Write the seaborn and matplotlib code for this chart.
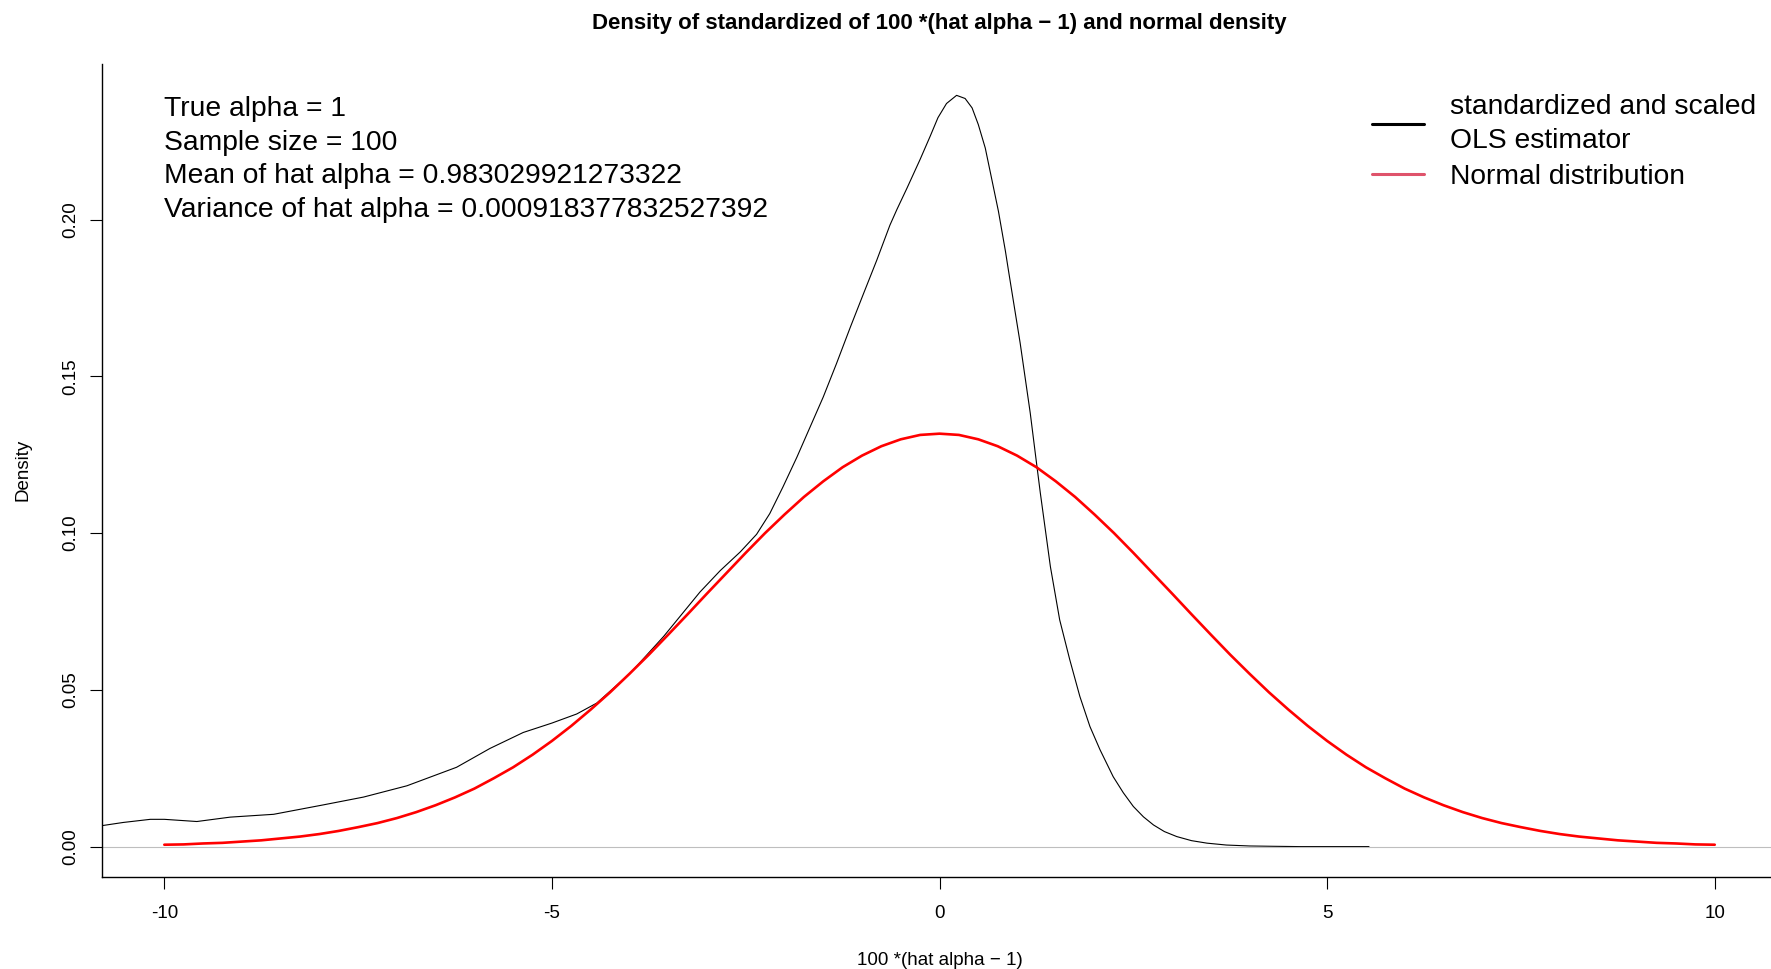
import pandas as pd
import matplotlib
import matplotlib.pyplot as plt
import seaborn as sns
from matplotlib.lines import Line2D

matplotlib.use('Agg')

# Density curve of the standardized, scaled OLS estimator
ols_x = [-10.80, -10.53, -10.18, -10.00, -9.58, -9.15, -8.59, -7.95, -7.43, -6.87,
         -6.23, -5.80, -5.37, -5.00, -4.68, -4.42, -3.99, -3.56, -3.09, -2.83,
         -2.57, -2.36, -2.19, -2.02, -1.84, -1.67, -1.50, -1.33, -1.15, -0.98,
         -0.81, -0.64, -0.55, -0.42, -0.25, -0.12, -0.02, 0.09, 0.22, 0.33,
         0.42, 0.50, 0.59, 0.67, 0.76, 0.85, 0.89, 1.04, 1.17, 1.24,
         1.30, 1.43, 1.55, 1.68, 1.81, 1.94, 2.07, 2.24, 2.37, 2.50,
         2.63, 2.76, 2.90, 3.06, 3.25, 3.45, 3.70, 4.00, 4.30, 4.65, 5.54]
ols_density = [0.0067, 0.0077, 0.0087, 0.0087, 0.0080, 0.0094, 0.0103, 0.0133, 0.0158, 0.0194,
               0.0253, 0.0313, 0.0364, 0.0394, 0.0423, 0.0458, 0.0553, 0.0670, 0.0812, 0.0880,
               0.0940, 0.0996, 0.1062, 0.1147, 0.1242, 0.1338, 0.1434, 0.1540, 0.1657, 0.1764,
               0.1870, 0.1982, 0.2032, 0.2100, 0.2192, 0.2266, 0.2325, 0.2370, 0.2396, 0.2386,
               0.2356, 0.2303, 0.2228, 0.2133, 0.2026, 0.1899, 0.1836, 0.1606, 0.1383, 0.1245,
               0.1128, 0.0893, 0.0723, 0.0596, 0.0479, 0.0383, 0.0309, 0.0223, 0.0172, 0.0128,
               0.0095, 0.0069, 0.0048, 0.0032, 0.0019, 0.0011, 0.0005, 0.0002, 0.0001, 0.0000, 0.0000]

# Normal density curve
norm_x = [-10.0, -9.75, -9.5, -9.25, -9.0, -8.75, -8.5, -8.25, -8.0, -7.75,
          -7.5, -7.25, -7.0, -6.75, -6.5, -6.25, -6.0, -5.75, -5.5, -5.25,
          -5.0, -4.75, -4.5, -4.25, -4.0, -3.75, -3.5, -3.25, -3.0, -2.75,
          -2.5, -2.25, -2.0, -1.75, -1.5, -1.25, -1.0, -0.75, -0.5, -0.25,
          0.0,
          0.25, 0.5, 0.75, 1.0, 1.25, 1.5, 1.75, 2.0, 2.25, 2.5,
          2.75, 3.0, 3.25, 3.5, 3.75, 4.0, 4.25, 4.5, 4.75, 5.0,
          5.25, 5.5, 5.75, 6.0, 6.25, 6.5, 6.75, 7.0, 7.25, 7.5,
          7.75, 8.0, 8.25, 8.5, 8.75, 9.0, 9.25, 9.5, 9.75, 10.0]
norm_density = [0.0006, 0.0007, 0.0010, 0.0012, 0.0016, 0.0020, 0.0026, 0.0032, 0.0040, 0.0050,
                0.0062, 0.0075, 0.0091, 0.0110, 0.0132, 0.0157, 0.0185, 0.0218, 0.0253, 0.0293,
                0.0337, 0.0385, 0.0437, 0.0492, 0.0551, 0.0612, 0.0676, 0.0741, 0.0807, 0.0872,
                0.0937, 0.1000, 0.1059, 0.1115, 0.1165, 0.1210, 0.1247, 0.1277, 0.1299, 0.1313,
                0.1317,
                0.1313, 0.1299, 0.1277, 0.1247, 0.1210, 0.1165, 0.1115, 0.1059, 0.1000, 0.0937,
                0.0872, 0.0807, 0.0741, 0.0676, 0.0612, 0.0551, 0.0492, 0.0437, 0.0385, 0.0337,
                0.0293, 0.0253, 0.0218, 0.0185, 0.0157, 0.0132, 0.0110, 0.0091, 0.0075, 0.0062,
                0.0050, 0.0040, 0.0032, 0.0026, 0.0020, 0.0016, 0.0012, 0.0010, 0.0007, 0.0006]

x_ticks = [-10, -5, 0, 5, 10]
y_ticks = [0.00, 0.05, 0.10, 0.15, 0.20]

info_lines = [
    'True alpha = 1',
    'Sample size = 100',
    'Mean of hat alpha = 0.983029921273322',
    'Variance of hat alpha = 0.000918377832527392',
]
legend_labels = ['standardized and scaled\nOLS estimator', 'Normal distribution']

ols_df = pd.DataFrame({'x': ols_x, 'density': ols_density})
norm_df = pd.DataFrame({'x': norm_x, 'density': norm_density})

sns.set_style('ticks')
plt.rcParams['font.family'] = ['Liberation Sans', 'DejaVu Sans']
plt.rcParams['text.color'] = 'black'
plt.rcParams['axes.labelcolor'] = 'black'
plt.rcParams['xtick.color'] = 'black'
plt.rcParams['ytick.color'] = 'black'

fig = plt.figure(figsize=(17.71, 9.69), dpi=100)
ax = fig.add_axes([0.05776, 0.09525, 0.9455, 0.8387])

sns.lineplot(data=ols_df, x='x', y='density', color='black', linewidth=0.8,
             estimator=None, ax=ax)
ax.axhline(0, color='#BEBEBE', linewidth=0.8)
sns.lineplot(data=norm_df, x='x', y='density', color='red', linewidth=1.9,
             estimator=None, ax=ax)

ax.set_xlim(-10.8, 10.8)
ax.set_ylim(-0.0096, 0.2496)
ax.set_xticks(x_ticks)
ax.set_xticklabels([str(t) for t in x_ticks])
ax.set_yticks(y_ticks)
ax.set_yticklabels([f'{t:.2f}' for t in y_ticks], rotation=90, va='center')
ax.tick_params(axis='both', length=8.6, width=0.8, labelsize=13.5,
               colors='black', direction='out')
ax.tick_params(axis='x', pad=12)
ax.tick_params(axis='y', pad=8)

for side in ['top', 'right']:
    ax.spines[side].set_visible(False)
for side in ['left', 'bottom']:
    ax.spines[side].set_color('black')
    ax.spines[side].set_linewidth(1.0)

ax.set_xlabel('100 *(hat alpha \u2212 1)', fontsize=13.5)
ax.set_ylabel('Density', fontsize=13.5)
ax.xaxis.set_label_coords(0.5, -0.1028)
ax.xaxis.label.set_va('center')
ax.yaxis.set_label_coords(-0.0476, 0.5)
ax.yaxis.label.set_va('center')

fig.suptitle('Density of standardized of 100 *(hat alpha \u2212 1) and normal density',
             x=939.5 / 1771, y=1 - 23 / 969, va='center', fontsize=16.0,
             fontweight='bold')

fig.text(164 / 1771, 1 - 159.5 / 969, '\n'.join(info_lines), ha='left', va='center',
         fontsize=20.3, linespacing=1.39)

handles = [Line2D([], [], color='black', linewidth=2.2),
           Line2D([], [], color='#DF536B', linewidth=2.2)]
leg = fig.legend(handles, legend_labels, loc='center left',
                 bbox_to_anchor=(1372 / 1771, 1 - 142 / 969), frameon=False,
                 fontsize=20.3, handlelength=1.86, handletextpad=0.9,
                 labelspacing=0.35, borderpad=0, borderaxespad=0)
for t in leg.get_texts():
    t.set_linespacing(1.39)

fig.savefig('out.png', dpi=100)
